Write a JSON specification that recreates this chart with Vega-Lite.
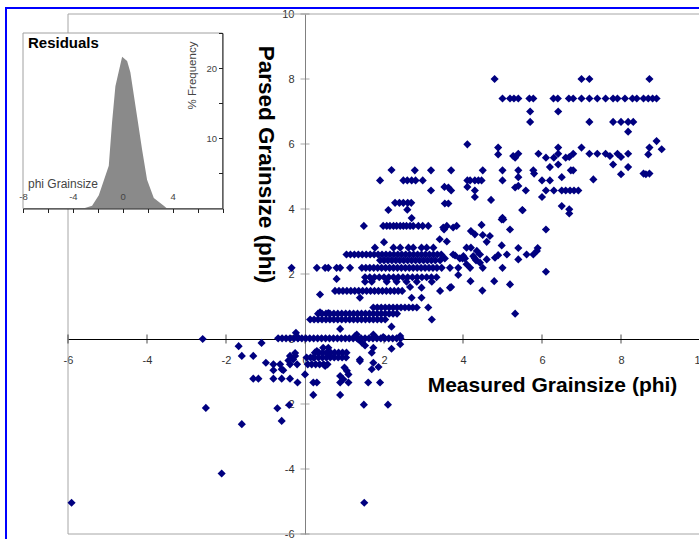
{
  "$schema": "https://vega.github.io/schema/vega-lite/v6.json",
  "width": 700,
  "height": 540,
  "autosize": {"type": "none"},
  "padding": {"left": 6, "top": 8, "right": 0, "bottom": 0},
  "background": "white",
  "config": {
    "view": {"stroke": "#0000ff", "strokeWidth": 2},
    "font": "Liberation Sans"
  },
  "datasets": {
    "pts": [
      {"m":4.8,"p":8.0},{"m":7.0,"p":8.0},{"m":7.2,"p":8.0},{"m":8.72,"p":8.0},
      {"m":5.0,"p":7.4},{"m":5.19,"p":7.4},{"m":5.29,"p":7.4},{"m":5.4,"p":7.4},{"m":5.68,"p":7.4},{"m":5.78,"p":7.4},{"m":6.29,"p":7.4},{"m":6.4,"p":7.4},{"m":6.68,"p":7.4},{"m":6.79,"p":7.4},{"m":7.0,"p":7.4},{"m":7.2,"p":7.4},{"m":7.4,"p":7.4},{"m":7.61,"p":7.4},{"m":7.8,"p":7.4},{"m":7.91,"p":7.4},{"m":8.1,"p":7.4},{"m":8.29,"p":7.4},{"m":8.4,"p":7.4},{"m":8.57,"p":7.4},{"m":8.69,"p":7.4},{"m":8.8,"p":7.4},{"m":8.9,"p":7.4},
      {"m":5.7,"p":7.0},{"m":6.41,"p":7.0},
      {"m":5.7,"p":6.68},{"m":7.2,"p":6.68},{"m":7.8,"p":6.68},{"m":8.0,"p":6.68},{"m":8.18,"p":6.68},{"m":8.31,"p":6.68},
      {"m":8.18,"p":6.38},
      {"m":4.11,"p":5.99},{"m":8.9,"p":6.09},{"m":9.03,"p":5.84},{"m":8.72,"p":5.89},{"m":8.69,"p":5.68},{"m":4.89,"p":5.89},{"m":4.89,"p":5.68},
      {"m":5.32,"p":5.58},{"m":5.4,"p":5.7},{"m":5.27,"p":5.63},{"m":5.91,"p":5.7},{"m":6.1,"p":5.58},{"m":6.3,"p":5.58},{"m":6.41,"p":5.89},{"m":6.41,"p":5.7},{"m":6.6,"p":5.58},{"m":6.69,"p":5.6},{"m":6.79,"p":5.7},{"m":7.0,"p":5.89},
      {"m":7.2,"p":5.7},{"m":7.4,"p":5.7},{"m":7.61,"p":5.7},{"m":7.72,"p":5.63},{"m":7.91,"p":5.7},{"m":8.0,"p":5.6},{"m":8.18,"p":5.7},
      {"m":7.8,"p":5.37},{"m":8.18,"p":5.29},{"m":8.0,"p":5.07},{"m":8.57,"p":5.09},{"m":8.72,"p":5.09},{"m":8.63,"p":5.07},
      {"m":7.3,"p":4.91},
      {"m":6.2,"p":5.29},{"m":6.41,"p":5.37},{"m":6.5,"p":4.98},{"m":6.73,"p":5.19},{"m":6.79,"p":5.19},
      {"m":5.78,"p":5.19},{"m":5.8,"p":5.09},
      {"m":6.0,"p":4.88},{"m":6.2,"p":4.88},
      {"m":6.1,"p":4.57},{"m":6.3,"p":4.57},{"m":6.5,"p":4.57},{"m":6.6,"p":4.57},{"m":6.71,"p":4.57},{"m":6.81,"p":4.57},{"m":6.92,"p":4.57},
      {"m":6.0,"p":4.37},{"m":6.5,"p":4.09},{"m":6.69,"p":3.99},{"m":6.69,"p":3.86},
      {"m":5.32,"p":4.66},{"m":5.4,"p":4.71},{"m":5.59,"p":4.57},
      {"m":5.4,"p":5.19},{"m":5.4,"p":4.98},
      {"m":5.0,"p":5.19},{"m":5.0,"p":4.88},
      {"m":5.51,"p":3.96},{"m":5.0,"p":3.73},{"m":4.98,"p":3.68},
      {"m":4.11,"p":4.88},{"m":4.18,"p":4.88},{"m":4.3,"p":4.88},{"m":4.39,"p":4.88},{"m":4.47,"p":4.88},
      {"m":4.11,"p":4.68},{"m":4.3,"p":4.57},{"m":4.3,"p":4.37},{"m":4.5,"p":5.19},{"m":4.71,"p":4.28},
      {"m":3.53,"p":4.68},{"m":3.63,"p":4.66},{"m":3.7,"p":4.57},{"m":3.19,"p":4.57},
      {"m":3.54,"p":4.17},{"m":3.63,"p":4.17},
      {"m":3.7,"p":5.19},{"m":3.19,"p":5.19},{"m":2.78,"p":5.19},{"m":2.19,"p":5.2},
      {"m":1.9,"p":4.88},{"m":2.49,"p":4.88},{"m":2.59,"p":4.88},{"m":2.7,"p":4.88},{"m":2.8,"p":4.88},{"m":2.98,"p":4.88},
      {"m":2.28,"p":4.19},{"m":2.39,"p":4.19},{"m":2.49,"p":4.19},{"m":2.6,"p":4.19},{"m":2.69,"p":4.19},
      {"m":2.11,"p":3.97},{"m":2.59,"p":3.98},{"m":2.7,"p":3.72},
      {"m":1.49,"p":3.48},{"m":1.98,"p":3.48},{"m":2.07,"p":3.48},{"m":2.15,"p":3.48},{"m":2.24,"p":3.48},{"m":2.32,"p":3.48},{"m":2.41,"p":3.48},{"m":2.49,"p":3.48},{"m":2.57,"p":3.48},{"m":2.66,"p":3.48},{"m":2.74,"p":3.48},{"m":2.87,"p":3.48},{"m":2.98,"p":3.48},{"m":3.12,"p":3.48},{"m":3.59,"p":3.48},{"m":3.84,"p":3.48},
      {"m":3.5,"p":3.43},{"m":3.75,"p":3.43},{"m":3.52,"p":3.37},
      {"m":4.47,"p":3.51},{"m":4.2,"p":3.32},{"m":4.3,"p":3.22},{"m":4.5,"p":3.2},{"m":4.68,"p":3.17},
      {"m":5.02,"p":3.68},{"m":5.19,"p":3.37},{"m":6.1,"p":3.37},{"m":5.5,"p":3.97},
      {"m":3.41,"p":3.07},{"m":4.6,"p":2.99},{"m":2.0,"p":2.98},{"m":3.59,"p":3.0},
      {"m":4.98,"p":2.88},{"m":5.4,"p":2.8},{"m":5.89,"p":2.8},
      {"m":4.09,"p":2.81},{"m":4.2,"p":2.81},{"m":4.35,"p":2.71},{"m":4.43,"p":2.6},{"m":4.6,"p":2.45},{"m":4.81,"p":2.5},{"m":5.11,"p":2.6},{"m":5.4,"p":2.45},{"m":5.61,"p":2.6},{"m":5.78,"p":2.6},
      {"m":5.87,"p":2.71},{"m":4.89,"p":2.58},{"m":3.8,"p":2.57},{"m":4.26,"p":2.55},
      {"m":4.05,"p":2.48},{"m":4.3,"p":2.48},{"m":3.99,"p":2.48},{"m":4.33,"p":2.42},{"m":4.43,"p":2.35},
      {"m":4.09,"p":2.3},
      {"m":3.46,"p":2.19},{"m":3.67,"p":2.19},{"m":3.88,"p":2.19},{"m":4.18,"p":2.19},{"m":4.5,"p":2.19},{"m":5.0,"p":2.19},
      {"m":6.1,"p":2.07},{"m":3.88,"p":1.97},
      {"m":4.19,"p":1.78},{"m":4.79,"p":1.78},{"m":5.19,"p":1.68},{"m":3.7,"p":1.6},{"m":3.42,"p":1.48},{"m":4.49,"p":1.49},{"m":3.67,"p":1.58},
      {"m":5.32,"p":0.78},
      {"m":1.77,"p":2.81},{"m":2.24,"p":2.81},{"m":2.41,"p":2.81},{"m":2.62,"p":2.81},{"m":2.74,"p":2.81},{"m":2.95,"p":2.81},{"m":3.08,"p":2.81},{"m":3.25,"p":2.81},
      {"m":1.05,"p":2.6},{"m":1.15,"p":2.6},{"m":1.25,"p":2.6},{"m":1.35,"p":2.6},{"m":1.45,"p":2.6},{"m":1.55,"p":2.6},{"m":1.65,"p":2.6},{"m":1.75,"p":2.6},{"m":1.85,"p":2.6},{"m":1.95,"p":2.6},{"m":2.05,"p":2.6},{"m":2.15,"p":2.6},{"m":2.25,"p":2.6},{"m":2.35,"p":2.6},{"m":2.45,"p":2.6},{"m":2.55,"p":2.6},{"m":2.65,"p":2.6},{"m":2.75,"p":2.6},{"m":2.85,"p":2.6},{"m":2.95,"p":2.6},{"m":3.05,"p":2.6},{"m":3.15,"p":2.6},{"m":3.25,"p":2.6},{"m":3.35,"p":2.6},{"m":3.45,"p":2.6},
      {"m":1.9,"p":2.42},{"m":2.0,"p":2.42},{"m":2.1,"p":2.42},{"m":2.2,"p":2.42},{"m":2.3,"p":2.42},{"m":2.4,"p":2.42},{"m":2.5,"p":2.42},{"m":2.6,"p":2.42},{"m":2.7,"p":2.42},{"m":2.8,"p":2.42},{"m":2.9,"p":2.42},{"m":3.0,"p":2.42},{"m":3.1,"p":2.42},{"m":3.2,"p":2.42},{"m":3.3,"p":2.42},{"m":3.42,"p":2.42},
      {"m":3.54,"p":2.48},{"m":3.75,"p":2.6},{"m":3.92,"p":2.48},{"m":4.01,"p":2.55},
      {"m":-0.34,"p":2.19},{"m":0.3,"p":2.19},{"m":0.51,"p":2.19},{"m":0.59,"p":2.19},{"m":0.8,"p":2.19},{"m":0.89,"p":2.19},{"m":1.14,"p":2.19},
      {"m":1.44,"p":2.19},{"m":1.54,"p":2.19},{"m":1.64,"p":2.19},{"m":1.74,"p":2.19},{"m":1.84,"p":2.19},{"m":1.94,"p":2.19},{"m":2.04,"p":2.19},{"m":2.14,"p":2.19},{"m":2.24,"p":2.19},{"m":2.34,"p":2.19},{"m":2.44,"p":2.19},{"m":2.54,"p":2.19},{"m":2.64,"p":2.19},{"m":2.74,"p":2.19},{"m":2.84,"p":2.19},{"m":2.94,"p":2.19},{"m":3.04,"p":2.19},{"m":3.14,"p":2.19},{"m":3.24,"p":2.19},{"m":3.34,"p":2.19},
      {"m":0.8,"p":1.85},
      {"m":1.52,"p":1.9},{"m":1.64,"p":1.9},{"m":1.76,"p":1.9},{"m":1.88,"p":1.9},{"m":2.0,"p":1.9},{"m":2.12,"p":1.9},{"m":2.24,"p":1.9},{"m":2.36,"p":1.9},{"m":2.48,"p":1.9},{"m":2.6,"p":1.9},{"m":2.72,"p":1.9},{"m":2.84,"p":1.9},{"m":2.96,"p":1.9},{"m":3.08,"p":1.9},{"m":3.2,"p":1.9},{"m":3.33,"p":1.9},
      {"m":1.52,"p":1.76},{"m":1.69,"p":1.76},{"m":2.07,"p":1.76},{"m":2.32,"p":1.76},{"m":2.57,"p":1.76},{"m":2.83,"p":1.76},{"m":3.21,"p":1.76},
      {"m":2.66,"p":1.6},{"m":2.95,"p":1.58},
      {"m":0.38,"p":1.37},
      {"m":0.76,"p":1.48},{"m":0.86,"p":1.48},{"m":0.96,"p":1.48},{"m":1.06,"p":1.48},{"m":1.16,"p":1.48},{"m":1.26,"p":1.48},{"m":1.36,"p":1.48},{"m":1.46,"p":1.48},{"m":1.56,"p":1.48},{"m":1.66,"p":1.48},{"m":1.76,"p":1.48},{"m":1.86,"p":1.48},{"m":1.96,"p":1.48},{"m":2.06,"p":1.48},{"m":2.16,"p":1.48},{"m":2.26,"p":1.48},{"m":2.36,"p":1.48},{"m":2.46,"p":1.48},
      {"m":1.39,"p":1.27},{"m":2.7,"p":1.27},{"m":2.95,"p":1.27},
      {"m":1.73,"p":0.97},{"m":1.83,"p":0.97},{"m":1.93,"p":0.97},{"m":2.03,"p":0.97},{"m":2.13,"p":0.97},{"m":2.23,"p":0.97},{"m":2.33,"p":0.97},{"m":2.43,"p":0.97},{"m":2.53,"p":0.97},{"m":2.63,"p":0.97},{"m":2.73,"p":0.97},{"m":2.83,"p":0.97},{"m":3.12,"p":0.97},
      {"m":0.38,"p":0.82},{"m":0.59,"p":0.8},
      {"m":0.33,"p":0.78},{"m":0.43,"p":0.78},{"m":0.53,"p":0.78},{"m":0.63,"p":0.78},{"m":0.73,"p":0.78},{"m":0.83,"p":0.78},{"m":0.93,"p":0.78},{"m":1.03,"p":0.78},{"m":1.13,"p":0.78},{"m":1.23,"p":0.78},{"m":1.33,"p":0.78},{"m":1.43,"p":0.78},{"m":1.53,"p":0.78},{"m":1.63,"p":0.78},{"m":1.73,"p":0.78},{"m":1.83,"p":0.78},{"m":1.93,"p":0.78},{"m":2.03,"p":0.78},{"m":2.13,"p":0.78},{"m":2.23,"p":0.78},{"m":2.33,"p":0.78},
      {"m":0.13,"p":0.6},{"m":0.23,"p":0.6},{"m":0.33,"p":0.6},{"m":0.43,"p":0.6},{"m":0.53,"p":0.6},{"m":0.63,"p":0.6},{"m":0.73,"p":0.6},{"m":0.83,"p":0.6},{"m":0.93,"p":0.6},{"m":1.03,"p":0.6},{"m":1.13,"p":0.6},{"m":1.23,"p":0.6},{"m":1.33,"p":0.6},{"m":1.43,"p":0.6},{"m":1.53,"p":0.6},{"m":1.63,"p":0.6},{"m":1.73,"p":0.6},{"m":1.83,"p":0.6},{"m":1.93,"p":0.6},{"m":2.03,"p":0.6},{"m":3.21,"p":0.6},
      {"m":2.19,"p":0.38},{"m":0.89,"p":0.31},
      {"m":1.31,"p":0.14},{"m":1.73,"p":0.14},{"m":1.98,"p":0.06},{"m":2.41,"p":0.09},{"m":2.41,"p":-0.16},
      {"m":-0.23,"p":0.19},{"m":-0.17,"p":0.04},
      {"m":-0.68,"p":0.02},{"m":-0.58,"p":0.02},{"m":-0.48,"p":0.02},{"m":-0.38,"p":0.02},{"m":-0.28,"p":0.02},{"m":-0.18,"p":0.02},{"m":-0.08,"p":0.02},{"m":0.02,"p":0.02},{"m":0.12,"p":0.02},{"m":0.22,"p":0.02},{"m":0.32,"p":0.02},{"m":0.42,"p":0.02},{"m":0.52,"p":0.02},{"m":0.62,"p":0.02},{"m":0.72,"p":0.02},{"m":0.82,"p":0.02},{"m":0.92,"p":0.02},{"m":1.02,"p":0.02},{"m":1.12,"p":0.02},{"m":1.22,"p":0.02},{"m":1.32,"p":0.02},{"m":1.42,"p":0.02},{"m":1.52,"p":0.02},{"m":1.62,"p":0.02},{"m":1.72,"p":0.02},{"m":1.82,"p":0.02},{"m":1.92,"p":0.02},{"m":2.02,"p":0.02},{"m":2.12,"p":0.02},{"m":2.22,"p":0.02},{"m":2.32,"p":0.02},{"m":2.42,"p":0.02},
      {"m":-2.59,"p":0.0},{"m":-1.1,"p":-0.12},{"m":-1.68,"p":-0.22},
      {"m":1.27,"p":0.09},{"m":1.35,"p":-0.01},{"m":1.44,"p":-0.11},{"m":1.52,"p":-0.2},
      {"m":0.3,"p":-0.37},{"m":0.46,"p":-0.27},{"m":0.63,"p":-0.52},{"m":0.59,"p":-0.27},{"m":0.21,"p":-0.57},
      {"m":1.73,"p":-0.27},{"m":1.69,"p":-0.42},{"m":2.19,"p":-0.3},
      {"m":0.25,"p":-0.42},{"m":0.35,"p":-0.42},{"m":0.45,"p":-0.42},{"m":0.55,"p":-0.42},{"m":0.65,"p":-0.42},{"m":0.75,"p":-0.42},{"m":0.85,"p":-0.42},{"m":0.95,"p":-0.42},{"m":1.05,"p":-0.42},
      {"m":0.04,"p":-0.57},{"m":0.14,"p":-0.57},{"m":0.24,"p":-0.57},{"m":0.34,"p":-0.57},{"m":0.44,"p":-0.57},{"m":0.54,"p":-0.57},{"m":0.64,"p":-0.57},{"m":0.74,"p":-0.57},{"m":0.84,"p":-0.57},{"m":0.94,"p":-0.57},{"m":1.04,"p":-0.57},
      {"m":0.07,"p":-0.78},{"m":0.17,"p":-0.78},{"m":0.27,"p":-0.78},{"m":0.37,"p":-0.78},{"m":0.47,"p":-0.78},{"m":0.57,"p":-0.78},
      {"m":1.0,"p":-0.88},{"m":1.06,"p":-0.98},{"m":1.1,"p":-1.09},{"m":0.89,"p":-1.14},{"m":0.97,"p":-1.24},{"m":0.0,"p":-1.09},
      {"m":0.21,"p":-1.34},{"m":0.3,"p":-1.34},
      {"m":0.21,"p":-1.72},{"m":0.89,"p":-1.72},
      {"m":0.89,"p":-1.34},{"m":1.1,"p":-1.34},{"m":1.6,"p":-1.34},{"m":1.9,"p":-1.34},
      {"m":1.49,"p":-2.02},{"m":2.1,"p":-2.02},
      {"m":1.69,"p":-0.93},{"m":1.39,"p":-0.63},{"m":1.73,"p":-0.73},{"m":1.86,"p":-0.86},{"m":0.51,"p":-0.83},{"m":1.39,"p":-0.68},
      {"m":-1.6,"p":-0.52},{"m":-1.31,"p":-0.52},{"m":-0.99,"p":-0.73},{"m":-0.8,"p":-0.78},{"m":-0.8,"p":-0.96},{"m":-0.63,"p":-0.78},{"m":-0.55,"p":-0.96},{"m":-0.38,"p":-0.78},{"m":-0.42,"p":-0.66},{"m":-0.3,"p":-0.63},{"m":-0.38,"p":-0.52},{"m":-0.25,"p":-0.43},{"m":-0.2,"p":-0.78},{"m":-0.25,"p":-0.52},
      {"m":-1.31,"p":-1.22},{"m":-1.18,"p":-1.22},{"m":-0.8,"p":-1.22},{"m":-0.59,"p":-1.22},{"m":-0.38,"p":-1.22},{"m":-0.19,"p":-1.34},{"m":-0.59,"p":-0.93},
      {"m":-2.51,"p":-2.12},{"m":-0.7,"p":-2.13},{"m":-0.4,"p":-2.03},{"m":-0.59,"p":-2.52},{"m":-1.6,"p":-2.62},{"m":-2.11,"p":-4.14},{"m":-5.91,"p":-5.04},{"m":1.5,"p":-5.04}
    ],
    "res": [
      {"v":-4.0,"f":0},{"v":-3.1,"f":0.05},{"v":-2.46,"f":0.4},{"v":-1.92,"f":1.9},{"v":-1.12,"f":6.1},{"v":-0.86,"f":12.2},{"v":-0.59,"f":17.4},{"v":-0.05,"f":21.6},{"v":0.35,"f":21.0},{"v":0.61,"f":19.4},{"v":1.15,"f":13.1},{"v":1.55,"f":8.4},{"v":1.95,"f":4.1},{"v":2.49,"f":1.5},{"v":3.29,"f":0.4},{"v":3.55,"f":0}
    ],
    "xt": [{"t":-6},{"t":-4},{"t":-2},{"t":0},{"t":2},{"t":4},{"t":6},{"t":8},{"t":10}],
    "yt": [{"t":-6},{"t":-4},{"t":-2},{"t":0},{"t":2},{"t":4},{"t":6},{"t":8},{"t":10}]
  },
  "layer": [
    {
      "layer": [
        {
          "data": {"values": [{}]},
          "mark": {"type": "rect", "filled": false, "stroke": "#a6a6a6", "strokeWidth": 1},
          "encoding": {
            "x": {"datum": -6, "type": "quantitative"},
            "x2": {"datum": 10},
            "y": {"datum": -6, "type": "quantitative"},
            "y2": {"datum": 10}
          }
        },
        {
          "data": {"name": "xt"},
          "mark": {"type": "tick", "orient": "vertical", "size": 9, "thickness": 1, "color": "#000000"},
          "encoding": {
            "x": {"field": "t", "type": "quantitative"},
            "y": {"datum": 0, "type": "quantitative"}
          }
        },
        {
          "data": {"name": "yt"},
          "mark": {"type": "tick", "orient": "horizontal", "size": 9, "thickness": 1, "color": "#808080"},
          "encoding": {
            "y": {"field": "t", "type": "quantitative"},
            "x": {"datum": 0, "type": "quantitative"}
          }
        },
        {
          "data": {"name": "pts"},
          "mark": {"type": "point", "shape": "diamond", "filled": true, "size": 66, "color": "#000080", "opacity": 1, "strokeWidth": 0},
          "encoding": {
            "x": {
              "field": "m", "type": "quantitative",
              "scale": {"domain": [-6, 10], "range": [62, 694], "nice": false, "zero": false},
              "axis": {
                "orient": "bottom", "offset": -209, "values": [-6, -4, -2, 0, 2, 4, 6, 8, 10],
                "ticks": false, "grid": false, "domainColor": "#000000", "domainWidth": 1,
                "labelPadding": 15, "labelFontSize": 11, "labelColor": "#333333",
                "labelExpr": "'' + datum.value", "labelOverlap": false, "labelFlush": false, "labelBound": false,
                "title": "Measured Grainsize (phi)", "titleFontSize": 21, "titleFontWeight": "bold", "titleColor": "#000000",
                "titleX": 546, "titleY": 46, "titleAlign": "center", "titleBaseline": "middle"
              }
            },
            "y": {
              "field": "p", "type": "quantitative",
              "scale": {"domain": [-6, 10], "range": [526, 6], "nice": false, "zero": false},
              "axis": {
                "orient": "left", "offset": -299, "values": [-6, -4, -2, 0, 2, 4, 6, 8, 10],
                "ticks": false, "grid": false, "domainColor": "#808080", "domainWidth": 1,
                "labelPadding": 11, "labelFontSize": 11, "labelColor": "#333333",
                "labelExpr": "'' + datum.value", "labelOverlap": false, "labelFlush": false, "labelBound": false,
                "title": "Parsed Grainsize (phi)", "titleFontSize": 22.5, "titleFontWeight": "bold", "titleColor": "#000000",
                "titleAngle": 90, "titleX": -40, "titleY": 156, "titleAlign": "center", "titleBaseline": "middle"
              }
            }
          }
        }
      ]
    },
    {
      "layer": [
        {
          "data": {"values": [{}]},
          "mark": {"type": "rect", "fill": "#ffffff", "stroke": "#a0a0a0", "strokeWidth": 1},
          "encoding": {
            "x": {"datum": -8, "type": "quantitative"},
            "x2": {"datum": 8},
            "y": {"datum": 0, "type": "quantitative"},
            "y2": {"datum": 25}
          }
        },
        {
          "data": {"name": "res"},
          "mark": {"type": "area", "color": "#8a8a8a", "opacity": 1},
          "encoding": {
            "x": {
              "field": "v", "type": "quantitative",
              "scale": {"domain": [-8, 8], "range": [17, 216.5], "nice": false, "zero": false},
              "axis": {
                "orient": "bottom", "offset": -339.5, "values": [-8, -6, -4, -2, 0, 2, 4, 6, 8],
                "zindex": 1, "grid": false, "domainColor": "#222222", "tickColor": "#222222", "tickSize": 4,
                "labelExpr": "(datum.value % 4 == 0 && datum.value < 8) ? '' + datum.value : ''",
                "labelBaseline": "middle", "labelPadding": -16, "labelFontSize": 9.5, "labelColor": "#444444",
                "labelOverlap": false, "labelFlush": false, "labelBound": false,
                "title": "phi Grainsize", "titleFontSize": 12, "titleFontWeight": "normal", "titleColor": "#444444",
                "titleX": 56.5, "titleY": -25, "titleAlign": "center", "titleBaseline": "middle"
              }
            },
            "y": {
              "field": "f", "type": "quantitative",
              "scale": {"domain": [0, 25], "range": [200.5, 25], "nice": false, "zero": false},
              "axis": {
                "orient": "left", "offset": -216.5, "values": [5, 10, 15, 20, 25],
                "zindex": 1, "grid": false, "domainColor": "#222222", "tickColor": "#222222", "tickSize": 4,
                "labelExpr": "(datum.value == 10 || datum.value == 20) ? '' + datum.value : ''",
                "labelPadding": 2, "labelFontSize": 9.5, "labelColor": "#444444",
                "labelOverlap": false, "labelFlush": false, "labelBound": false,
                "title": "% Frequency", "titleFontSize": 11.5, "titleFontWeight": "normal", "titleColor": "#444444",
                "titleAngle": -90, "titleX": -30.5, "titleY": 67, "titleAlign": "center", "titleBaseline": "middle"
              }
            }
          }
        },
        {
          "data": {"values": [{}]},
          "mark": {"type": "text", "text": "Residuals", "align": "left", "baseline": "middle", "fontSize": 15, "fontWeight": "bold", "color": "#000000"},
          "encoding": {
            "x": {"datum": -7.6, "type": "quantitative"},
            "y": {"datum": 23.6, "type": "quantitative"}
          }
        }
      ]
    }
  ],
  "resolve": {"scale": {"x": "independent", "y": "independent"}}
}
